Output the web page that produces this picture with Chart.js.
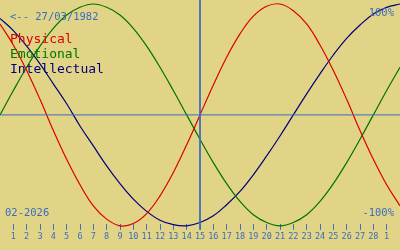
<!DOCTYPE html>
<html>
<head>
<meta charset="utf-8">
<script src="https://cdn.jsdelivr.net/npm/chart.js@4.4.1/dist/chart.umd.min.js"></script>
<style>
  html, body { margin: 0; padding: 0; background: #e1d486; }
  #bioChart { display: block; }
</style>
</head>
<body>
<canvas id="bioChart" width="400" height="250"></canvas>
<script>
// day labels, index 0 = 31 Jan ... index 30 = 2 Mar
const dayLabels = ['31', '1', '2', '3', '4', '5', '6', '7', '8', '9', '10', '11', '12', '13', '14', '15',
    '16', '17', '18', '19', '20', '21', '22', '23', '24', '25', '26', '27', '28', '1', '2'];

const physical = [0.82, 0.63, 0.40, 0.14, -0.14, -0.40, -0.63, -0.82, -0.94, -1.00, -0.98, -0.89, -0.73, -0.52, -0.27, 0.00,
    0.27, 0.52, 0.73, 0.89, 0.98, 1.00, 0.94, 0.82, 0.63, 0.40, 0.14, -0.14, -0.40, -0.63, -0.82];
const emotional = [0.00, 0.22, 0.43, 0.62, 0.78, 0.90, 0.97, 1.00, 0.97, 0.90, 0.78, 0.62, 0.43, 0.22, 0.00, -0.22,
    -0.43, -0.62, -0.78, -0.90, -0.97, -1.00, -0.97, -0.90, -0.78, -0.62, -0.43, -0.22, 0.00, 0.22, 0.43];
const intellectual = [0.87, 0.76, 0.62, 0.46, 0.28, 0.10, -0.10, -0.28, -0.46, -0.62, -0.76, -0.87, -0.95, -0.99, -1.00, -0.97,
    -0.91, -0.81, -0.69, -0.54, -0.37, -0.19, 0.00, 0.19, 0.37, 0.54, 0.69, 0.81, 0.91, 0.97, 1.00];

const todayIndex = 15;
const birthText = '<-- 27/03/1982';
const monthText = '02-2026';

const axisBlue = '#3a6cc0';

function toPoints(arr) {
    return arr.map((v, i) => ({x: i, y: v}))
}

const textPlugin = {
    id: 'bioText',
    afterDatasetsDraw(chart) {
        const ctx = chart.ctx;
        ctx.save();
        ctx.textBaseline = 'alphabetic';
        ctx.font = '10.5px "DejaVu Sans Mono"';
        ctx.fillStyle = axisBlue;
        ctx.textAlign = 'left';
        ctx.fillText(birthText, 10, 20);
        ctx.fillText(monthText, 5, 216);
        ctx.textAlign = 'right';
        ctx.fillText('100%', 394, 16);
        ctx.fillText('-100%', 394, 216);

        // legend
        ctx.textAlign = 'left';
        ctx.font = '13px "DejaVu Sans Mono"';
        const legendY = [43, 58, 73];
        chart.data.datasets.slice(2).forEach((ds, i) => {
            ctx.fillStyle = ds.borderColor;
            ctx.fillText(ds.label, 10, legendY[i]);
        });
        ctx.restore();
    }
};

const ctx = document.getElementById('bioChart').getContext('2d');
const chart = new Chart(ctx, {
    type: 'line',
    data: {
        datasets: [
            {
                label: 'zero',
                data: [{x: 0, y: 0}, {x: 30, y: 0}],
                borderColor: axisBlue,
                borderWidth: 1,
            },
            {
                label: 'today',
                data: [{x: todayIndex, y: 1.1}, {x: todayIndex, y: -1.036}],
                borderColor: axisBlue,
                borderWidth: 1,
            },
            {
                label: 'Physical',
                data: toPoints(physical),
                borderColor: '#dd0000',
                borderWidth: 1.2,
                tension: 0.4,
            },
            {
                label: 'Emotional',
                data: toPoints(emotional),
                borderColor: '#007400',
                borderWidth: 1.2,
                tension: 0.4,
            },
            {
                label: 'Intellectual',
                data: toPoints(intellectual),
                borderColor: '#00007c',
                borderWidth: 1.2,
                tension: 0.4,
            },
        ]
    },
    options: {
        responsive: false,
        animation: false,
        clip: 8,
        layout: {
            padding: {top: 0, left: 0, right: 0, bottom: 6}
        },
        elements: {
            point: {radius: 0},
        },
        plugins: {
            legend: {display: false},
            tooltip: {enabled: false},
        },
        scales: {
            x: {
                type: 'linear',
                min: 0,
                max: 30,
                border: {display: false},
                grid: {
                    drawOnChartArea: false,
                    drawTicks: true,
                    tickLength: 6,
                    color: axisBlue,
                    lineWidth: 1,
                },
                afterBuildTicks(scale) {
                    scale.ticks = scale.ticks.filter(t => t.value > 0 && t.value < 30);
                },
                ticks: {
                    stepSize: 1,
                    autoSkip: false,
                    maxRotation: 0,
                    padding: 2,
                    color: axisBlue,
                    font: {family: '"DejaVu Sans Mono"', size: 8.5},
                    callback: (v) => dayLabels[v],
                },
            },
            y: {
                display: false,
                min: -0.982,
                max: 1.036,
            },
        },
    },
    plugins: [textPlugin],
});
</script>
</body>
</html>
